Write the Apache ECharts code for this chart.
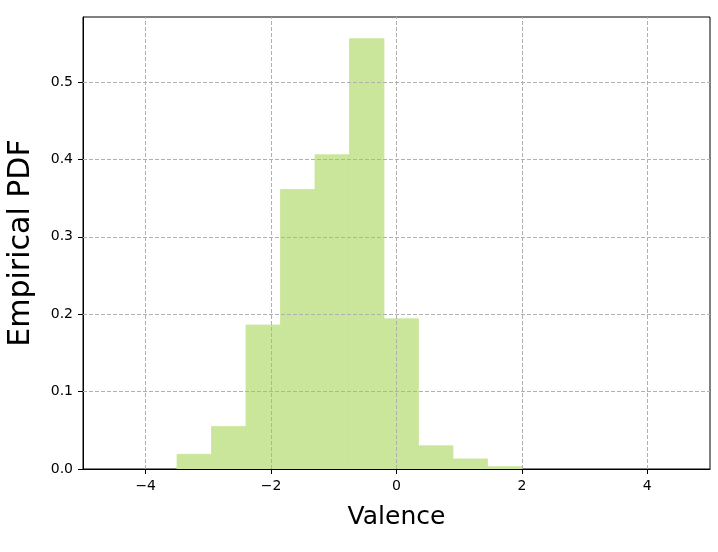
<!DOCTYPE html>
<html>
<head>
<meta charset="utf-8">
<script src="https://cdn.jsdelivr.net/npm/echarts@6/dist/echarts.min.js"></script>
<style>html,body{margin:0;padding:0;background:#fff}#c{width:718px;height:552px}</style>
</head>
<body>
<div id="c"></div>
<script>
// Histogram bin edges (Valence) and empirical PDF heights
var binEdges = [-3.5, -2.95, -2.4, -1.85, -1.3, -0.75, -0.2, 0.35, 0.9, 1.45, 2.0];
var density = [0.019, 0.055, 0.186, 0.361, 0.406, 0.556, 0.194, 0.030, 0.013, 0.003];
var xTicks = [-4, -2, 0, 2, 4];
var yTicks = [0, 0.1, 0.2, 0.3, 0.4, 0.5];
var xLabel = 'Valence';
var yLabel = 'Empirical PDF';

var bars = density.map(function (d, i) { return [binEdges[i], binEdges[i + 1], d]; });

var chart = echarts.init(document.getElementById('c'), null, {renderer: 'canvas'});
var font = 'DejaVu Sans';
chart.setOption({
  animation: false,
  backgroundColor: '#fff',
  grid: {left: 83, right: 8, top: 17, bottom: 83, show: true, borderColor: '#000', borderWidth: 1,
    backgroundColor: '#fff', outerBoundsMode: 'none', containLabel: false},
  xAxis: {
    type: 'value', min: -5, max: 5, z: 4,
    name: xLabel, nameLocation: 'middle', nameGap: 36,
    nameTextStyle: {fontFamily: font, fontSize: 25, color: '#000'},
    axisLine: {show: true, onZero: false, lineStyle: {color: '#000', width: 1}},
    axisTick: {show: true, length: 5, customValues: xTicks, lineStyle: {color: '#000'}},
    axisLabel: {customValues: xTicks, fontFamily: font, fontSize: 14, color: '#000', margin: 10,
      formatter: function (v) { return v < 0 ? '\u2212' + Math.abs(v) : String(v); }},
    splitLine: {show: false}
  },
  yAxis: {
    type: 'value', min: 0, max: 0.584, z: 4,
    name: yLabel, nameLocation: 'middle', nameGap: 47,
    nameTextStyle: {fontFamily: font, fontSize: 30, color: '#000'},
    axisLine: {show: true, onZero: false, lineStyle: {color: '#000', width: 1}},
    axisTick: {show: true, length: 5, customValues: yTicks, lineStyle: {color: '#000'}},
    axisLabel: {customValues: yTicks, fontFamily: font, fontSize: 14, color: '#000', margin: 10,
      formatter: function (v) { return v.toFixed(1); }},
    splitLine: {show: false}
  },
  series: [
    {
      type: 'custom', z: 2,
      data: bars,
      encode: {x: [0, 1], y: 2},
      renderItem: function (params, api) {
        var p0 = api.coord([api.value(0), 0]);
        var p1 = api.coord([api.value(1), api.value(2)]);
        return {type: 'rect', shape: {x: p0[0], y: p1[1], width: p1[0] - p0[0], height: p0[1] - p1[1]},
          style: {fill: '#c9e69b', stroke: '#c9e69b', lineWidth: 0.8}};
      }
    },
    {
      type: 'line', data: [], z: 5, silent: true,
      markLine: {
        silent: true, symbol: 'none', animation: false,
        label: {show: false},
        lineStyle: {color: '#b0b0b0', type: [4, 2], width: 1},
        data: xTicks.map(function (v) { return {xAxis: v}; }).concat(
          yTicks.slice(1).map(function (v) { return {yAxis: v}; }))
      }
    }
  ]
});
</script>
</body>
</html>
